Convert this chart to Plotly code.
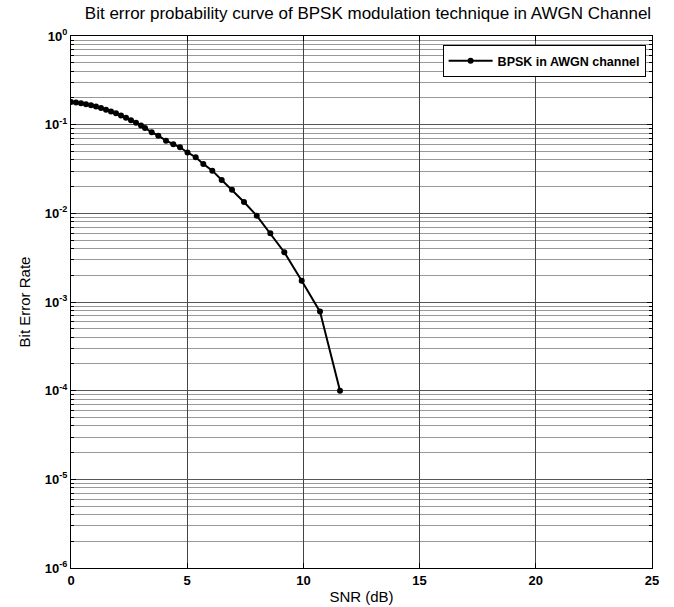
import plotly.graph_objects as go

snr_db = [0.000, 0.215, 0.430, 0.645, 0.861, 1.076, 1.291, 1.506, 1.721, 1.936,
          2.151, 2.367, 2.582, 2.797, 3.012, 3.184, 3.472, 3.756, 4.088, 4.402,
          4.690, 5.013, 5.366, 5.693, 6.080, 6.485, 6.928, 7.444, 7.991, 8.576,
          9.178, 9.927, 10.714, 11.575]
ber = [0.1803, 0.1775, 0.1740, 0.1698, 0.1651, 0.1598, 0.1540, 0.1476, 0.1410, 0.1341,
       0.1269, 0.1197, 0.1123, 0.1050, 0.0977, 0.0918, 0.0821, 0.0752, 0.0660, 0.0601,
       0.0556, 0.0486, 0.0429, 0.0361, 0.0303, 0.0238, 0.0184, 0.01344, 0.00942, 0.00596,
       0.00364, 0.00174, 0.000779, 0.0001]

x_ticks = [0, 5, 10, 15, 20, 25]
y_exps = [0, -1, -2, -3, -4, -5, -6]

series_name = "BPSK in AWGN channel"
title_text = "Bit error probability curve of BPSK modulation technique in AWGN Channel"

FONT = "Liberation Sans, Arial, sans-serif"

fig = go.Figure()
fig.add_trace(go.Scatter(
    x=snr_db, y=ber, mode="lines+markers", name="<b>" + series_name + "</b>",
    line=dict(color="black", width=2),
    marker=dict(color="black", size=6, symbol="circle"),
))

minor_vals = [m * 10 ** e for e in range(-6, 0) for m in range(2, 10)]

fig.update_layout(
    width=674, height=607,
    margin=dict(l=71, r=22, t=36, b=39),
    paper_bgcolor="white", plot_bgcolor="white",
    font=dict(family=FONT, color="black", size=12),
    title=dict(text=title_text, x=0.546, xanchor="center", y=0.979, yanchor="middle",
               font=dict(family=FONT, size=17, color="black"), automargin=False),
    showlegend=True,
    legend=dict(x=0.989, xanchor="right", y=0.983, yanchor="top",
                bgcolor="white", bordercolor="black", borderwidth=1,
                font=dict(family=FONT, size=12.5, color="black"),
                tracegroupgap=0, itemwidth=44),
    xaxis=dict(
        range=[0, 25], tickmode="array", tickvals=x_ticks,
        ticktext=["<b>%d</b>" % v for v in x_ticks],
        showgrid=True, gridcolor="#444444", gridwidth=0.6,
        showline=True, linecolor="black", linewidth=1, mirror="ticks",
        ticks="inside", ticklen=5, tickcolor="black",
        zeroline=False, automargin=False,
        title=dict(text="SNR (dB)", font=dict(family=FONT, size=15), standoff=4),
        tickfont=dict(family=FONT, size=13, color="black"),
    ),
    yaxis=dict(
        type="log", range=[-6, 0], tickmode="array",
        tickvals=[10 ** e for e in y_exps],
        ticktext=["<b>10<sup>%d</sup></b>" % e for e in y_exps],
        showgrid=True, gridcolor="#555555", gridwidth=0.7,
        showline=True, linecolor="black", linewidth=1, mirror="ticks",
        ticks="inside", ticklen=5, tickcolor="black",
        zeroline=False, automargin=False,
        minor=dict(tickmode="array", tickvals=minor_vals, ticks="inside", ticklen=3,
                   tickcolor="black", showgrid=True, gridcolor="#999999", gridwidth=0.6),
        title=dict(text="Bit Error Rate", font=dict(family=FONT, size=15), standoff=10),
        tickfont=dict(family=FONT, size=13, color="black"),
    ),
)

fig.write_html("out.html")
